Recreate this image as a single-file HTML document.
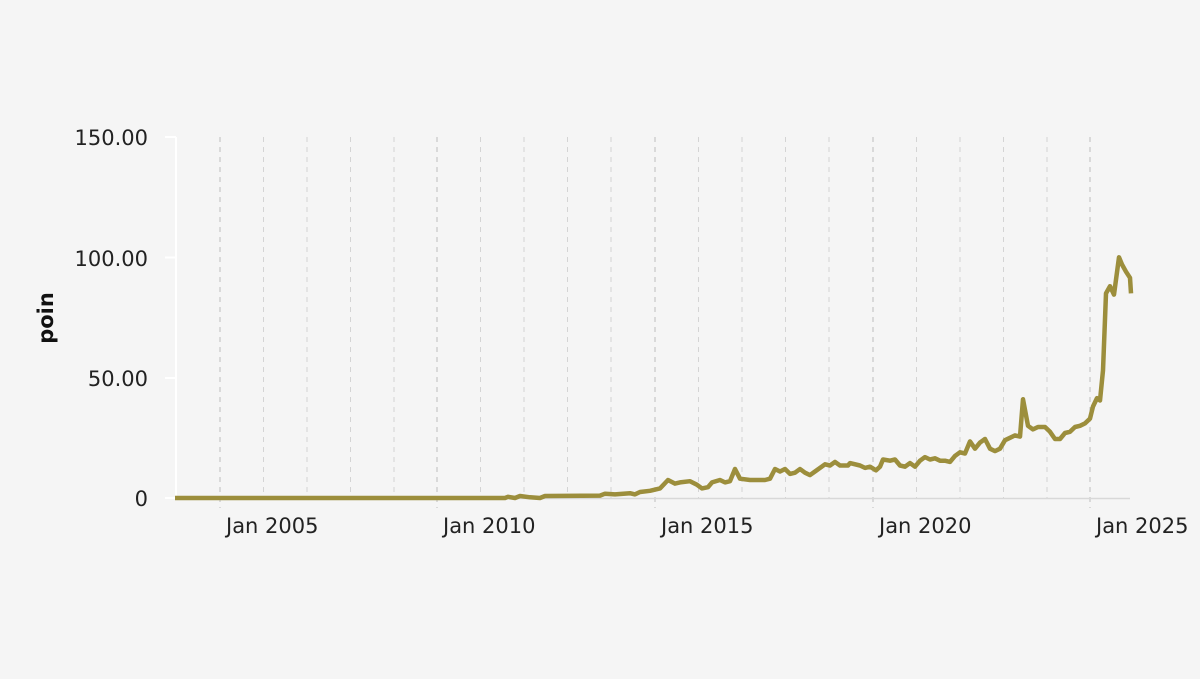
<!DOCTYPE html>
<html><head><style>html,body{margin:0;background:#f5f5f5}</style></head><body>
<svg width="1200" height="674" xmlns="http://www.w3.org/2000/svg" font-family="'DejaVu Sans',Verdana,sans-serif">
<rect width="1200" height="674" fill="#f5f5f5"/>
<g stroke="#d4d4d4" stroke-width="1" stroke-dasharray="5,5">
<line x1="220" y1="137" x2="220" y2="508" stroke="#bdbdbd"/>
<line x1="437" y1="137" x2="437" y2="508" stroke="#bdbdbd"/>
<line x1="655" y1="137" x2="655" y2="508" stroke="#bdbdbd"/>
<line x1="873" y1="137" x2="873" y2="508" stroke="#bdbdbd"/>
<line x1="1090" y1="137" x2="1090" y2="508" stroke="#bdbdbd"/>
<line x1="263.5" y1="137" x2="263.5" y2="498"/><line x1="307" y1="137" x2="307" y2="498"/><line x1="350.5" y1="137" x2="350.5" y2="498"/><line x1="394" y1="137" x2="394" y2="498"/>
<line x1="480.5" y1="137" x2="480.5" y2="498"/><line x1="524" y1="137" x2="524" y2="498"/><line x1="567.5" y1="137" x2="567.5" y2="498"/><line x1="611" y1="137" x2="611" y2="498"/>
<line x1="698.5" y1="137" x2="698.5" y2="498"/><line x1="742" y1="137" x2="742" y2="498"/><line x1="785.5" y1="137" x2="785.5" y2="498"/><line x1="829" y1="137" x2="829" y2="498"/>
<line x1="916.5" y1="137" x2="916.5" y2="498"/><line x1="960" y1="137" x2="960" y2="498"/><line x1="1003.5" y1="137" x2="1003.5" y2="498"/><line x1="1047" y1="137" x2="1047" y2="498"/>
</g>
<line x1="175" y1="498.5" x2="1130" y2="498.5" stroke="#d8d8d8" stroke-width="1.5"/>
<g stroke="#ffffff" stroke-width="2">
<line x1="176" y1="137" x2="176" y2="500"/>
<line x1="165" y1="137" x2="176" y2="137"/><line x1="165" y1="257.5" x2="176" y2="257.5"/><line x1="165" y1="378" x2="176" y2="378"/><line x1="165" y1="498" x2="176" y2="498"/>
</g>
<g font-size="21" fill="#222" text-anchor="end">
<text x="148" y="145">150.00</text><text x="148" y="266">100.00</text><text x="148" y="386">50.00</text><text x="148" y="506">0</text>
</g>
<g font-size="21" fill="#222">
<text x="226" y="533">Jan 2005</text><text x="443" y="533">Jan 2010</text><text x="661" y="533">Jan 2015</text><text x="879" y="533">Jan 2020</text><text x="1096" y="533">Jan 2025</text>
</g>
<text transform="translate(53,318) rotate(-90)" font-size="21" font-weight="bold" text-anchor="middle" fill="#111">poin</text>
<polyline fill="none" stroke="#9c8e3c" stroke-width="4.5" stroke-linejoin="round" points="
175,498 505,498 508,496.8 515,498 520,496 530,497.3 540,498 545,496 600,495.6 605,493.7 615,494.4 630,493.2 635,494.4 640,492 650,490.8 660,488.4 668,480 675,483.6 680,482.4 690,481.2 697,484.8 702,488.4 708,487.2 712,482.4 720,480 725,482.4 730,481.2 735,469 740,478.7 750,480 765,480 770,478.7 775,469 780,471.5 785,469 790,473.9 795,472.7 800,469 805,472.7 810,475.1 815,471.5 825,464.3 830,465.5 835,461.9 840,465.5 848,465.5 850,463.1 860,465.5 865,467.9 870,466.7 876,470.3 880,466.7 883,459.5 890,460.7 895,459.5 900,465.5 905,466.7 910,463.1 915,466.7 920,460.7 925,457.1 930,459.5 935,458.3 940,460.7 945,460.7 950,461.9 955,455.9 960,452.3 965,453.5 970,441.4 975,448.7 980,442.6 985,439 990,448.7 995,451.1 1000,448.7 1005,440.2 1010,437.8 1015,435.4 1020,436.6 1023,399.3 1028,425.8 1033,429.4 1038,427 1045,427 1050,431.8 1055,439 1060,439 1065,433 1070,431.8 1075,427 1080,425.8 1085,423.4 1090,418.6 1093,406.5 1097,398.1 1100,400.5 1103,370.4 1106,293.4 1110,286.2 1114,294.6 1119,257.3 1122,264.5 1126,271.7 1130,277.8 1131,293.4"/>
</svg>
</body></html>
